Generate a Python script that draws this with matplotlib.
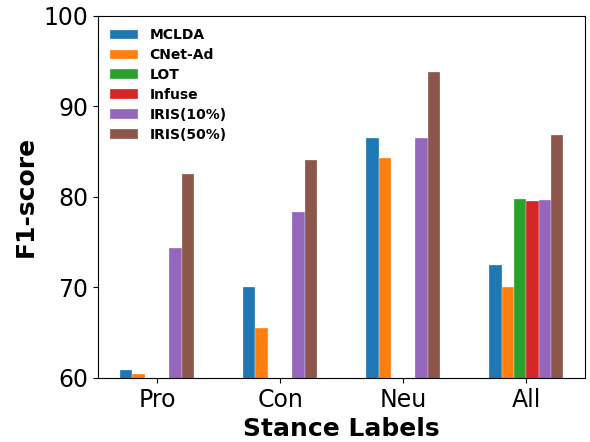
#!/usr/bin/env python3
"""Grouped bar chart of F1-score per stance label."""

import numpy as np
import matplotlib
matplotlib.use("Agg")
import matplotlib.pyplot as plt

labels = ["Pro", "Con", "Neu", "All"]
methods = ["MCLDA", "CNet-Ad", "LOT", "Infuse", "IRIS(10%)", "IRIS(50%)"]

mclda = [60.9, 70.1, 86.5, 72.5]
cnet_ad = [60.4, 65.5, 84.3, 70.1]
lot = [0, 0, 0, 79.8]
infuse = [0, 0, 0, 79.6]
iris10 = [74.3, 78.3, 86.5, 79.7]
iris50 = [82.5, 84.1, 93.8, 86.8]

series = [mclda, cnet_ad, lot, infuse, iris10, iris50]


def main():
    fig, ax = plt.subplots(figsize=(5.9, 4.42), dpi=100)
    x = np.arange(len(labels))
    width = 0.1
    for i, (name, vals) in enumerate(zip(methods, series)):
        ax.bar(x + (i - 2.5) * width, vals, width, label=name,
               edgecolor="white", linewidth=0.2)

    ax.set_ylim(60, 100)
    ax.set_xticks(x)
    ax.set_xticklabels(labels)
    ax.tick_params(axis="both", labelsize=17)
    ax.set_xlabel("Stance Labels", fontsize=18, fontweight="bold")
    ax.set_ylabel("F1-score", fontsize=18, fontweight="bold")
    ax.legend(loc="upper left", frameon=False, labelspacing=0.42,
              prop={"weight": "bold", "size": 10})

    fig.subplots_adjust(left=0.166, right=0.992, top=0.964, bottom=0.145)
    fig.savefig("out.png", dpi=100)
    plt.close(fig)


if __name__ == "__main__":
    main()
